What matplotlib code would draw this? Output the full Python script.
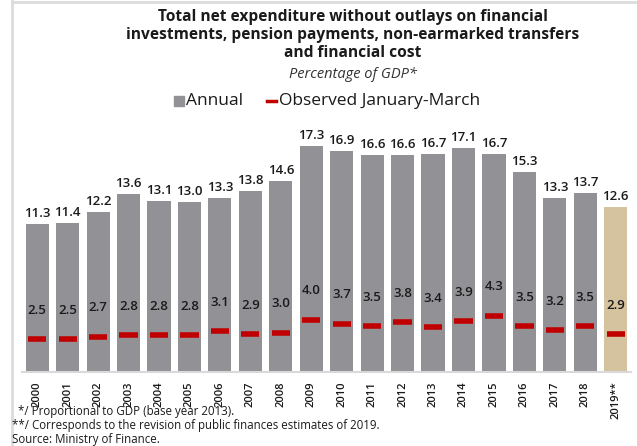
import matplotlib.pyplot as plt
from matplotlib.patches import Rectangle
from matplotlib.lines import Line2D

years = ['2000', '2001', '2002', '2003', '2004', '2005', '2006', '2007', '2008', '2009',
         '2010', '2011', '2012', '2013', '2014', '2015', '2016', '2017', '2018', '2019**']
annual = [11.3, 11.4, 12.2, 13.6, 13.1, 13.0, 13.3, 13.8, 14.6, 17.3,
          16.9, 16.6, 16.6, 16.7, 17.1, 16.7, 15.3, 13.3, 13.7, 12.6]
jan_mar = [2.5, 2.5, 2.7, 2.8, 2.8, 2.8, 3.1, 2.9, 3.0, 4.0,
           3.7, 3.5, 3.8, 3.4, 3.9, 4.3, 3.5, 3.2, 3.5, 2.9]

grey = '#929196'
tan = '#d5c29e'
red = '#c00000'
txt = '#1a1a1a'

plt.rcParams['font.family'] = ['Open Sans', 'DejaVu Sans']

fig = plt.figure(figsize=(6.37, 4.46), dpi=100)
ax = fig.add_axes([0.0345, 0.166, 0.956, 0.5426])

x = list(range(len(years)))
colors = [grey] * (len(years) - 1) + [tan]
ax.bar(x, annual, width=0.76, color=colors, zorder=2)
ax.hlines(jan_mar, [i - 0.3 for i in x], [i + 0.3 for i in x],
          color=red, lw=4, zorder=3)

for i, (a, q) in enumerate(zip(annual, jan_mar)):
    ax.text(i, a + 0.8, f'{a:.1f}', ha='center', va='center',
            fontsize=9.5, fontweight='semibold', color=txt)
    ax.text(i, q + 2.2, f'{q:.1f}', ha='center', va='center',
            fontsize=9.5, fontweight='semibold', color=txt, zorder=4)

ax.set_xlim(-0.5, 19.5)
ax.set_ylim(0, 18.5)
ax.set_xticks(x)
ax.set_xticklabels(years, rotation=90, fontsize=8, fontweight='semibold', color=txt)
ax.tick_params(axis='x', length=0, pad=7)
ax.set_yticks([])
for s in ['top', 'right', 'left']:
    ax.spines[s].set_visible(False)
ax.spines['bottom'].set_color('#d9d9d9')
ax.spines['bottom'].set_linewidth(1.5)

# light frame on the left and top
fig.add_artist(Line2D([12 / 637, 12 / 637], [0, 1 - 1 / 446], color='#dcdcdc', lw=2))
fig.add_artist(Line2D([12 / 637, 1], [1 - 1.5 / 446, 1 - 1.5 / 446], color='#dcdcdc', lw=2))

title_lines = ['Total net expenditure without outlays on financial',
               'investments, pension payments, non-earmarked transfers',
               'and financial cost']
for k, line in enumerate(title_lines):
    fig.text(353 / 637, 1 - (17 + 18 * k) / 446, line, ha='center', va='center',
             fontsize=11.2, fontweight='bold', color=txt)
fig.text(353 / 637, 1 - 74 / 446, 'Percentage of GDP*', ha='center', va='center',
         fontsize=10.5, style='italic', color='#333333')

# legend
ly = 1 - 101 / 446
fig.add_artist(Rectangle((174 / 637, ly - 5 / 446), 10 / 637, 10 / 446,
                         color=grey, transform=fig.transFigure))
fig.text(186 / 637, ly, 'Annual', ha='left', va='center', fontsize=12.5, color=txt)
fig.add_artist(Line2D([267 / 637, 276 / 637], [ly, ly], color=red, lw=2.5))
fig.text(279 / 637, ly, 'Observed January-March', ha='left', va='center',
         fontsize=12.5, color=txt)

notes = ['  */ Proportional to GDP (base year 2013).',
         '**/ Corresponds to the revision of public finances estimates of 2019.',
         'Source: Ministry of Finance.']
for k, n in enumerate(notes):
    fig.text(12 / 637, 1 - (412 + 14 * k) / 446, n, ha='left', va='center',
             fontsize=8.3, color=txt)

fig.savefig('out.png', dpi=100)
